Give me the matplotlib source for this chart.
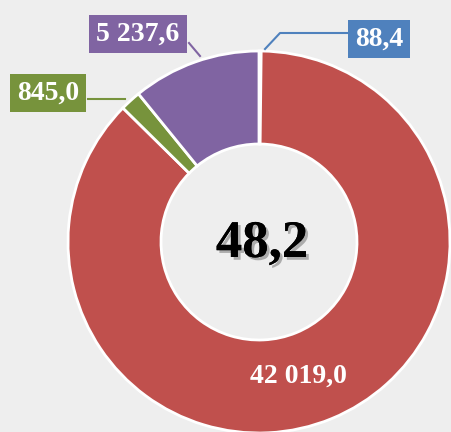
import numpy as np
import matplotlib.pyplot as plt
import matplotlib.patheffects as pe

# values, clockwise from 12 o'clock
values = [88.4, 42019.0, 845.0, 5237.6]
labels = ['88,4', '42 019,0', '845,0', '5 237,6']
colors = ['#4F81BD', '#C0504D', '#77933C', '#8064A2']
total_label = '48,2'

W, H = 451, 432
bg = '#eeeeee'
fig = plt.figure(figsize=(W / 100, H / 100), dpi=100)
fig.patch.set_facecolor(bg)
ax = fig.add_axes([0, 0, 1, 1])
ax.set_facecolor(bg)

cx, cy, R = 259, 432 - 242, 191
wedges, _ = ax.pie(values, colors=colors, startangle=90, counterclock=False,
                   radius=R, center=(cx, cy),
                   wedgeprops=dict(width=R - 98, edgecolor='white', linewidth=2))
ax.set_xlim(0, W)
ax.set_ylim(0, H)
ax.set_aspect('equal')
ax.axis('off')

font = dict(family='Liberation Serif', weight='bold', color='white', fontsize=20)

# red label inside ring
ax.text(cx + 39, cy - 134, labels[1], ha='center', va='center', **font)

# boxed outside labels
box_pos = {0: (379, 393), 3: (138, 398), 2: (48, 339)}
for i, (bx, by) in box_pos.items():
    ax.text(bx, by, labels[i], ha='center', va='center',
            bbox=dict(boxstyle='square,pad=0.25', fc=colors[i], ec='none'), **font)

# leader lines
ax.plot([265, 280, 347], [383, 399, 399], color=colors[0], lw=1.5)
ax.plot([189, 200], [389, 376], color=colors[3], lw=1.5)
ax.plot([88, 125], [333, 333], color=colors[2], lw=1.5)

ax.text(cx + 3, cy - 2, total_label, ha='center', va='center',
        family='Liberation Serif', weight='bold', fontsize=38, color='black',
        path_effects=[pe.withSimplePatchShadow(offset=(2, -2), shadow_rgbFace='gray', alpha=0.6),
                      pe.Normal()])

fig.savefig('out.png', dpi=100, facecolor=fig.get_facecolor())
